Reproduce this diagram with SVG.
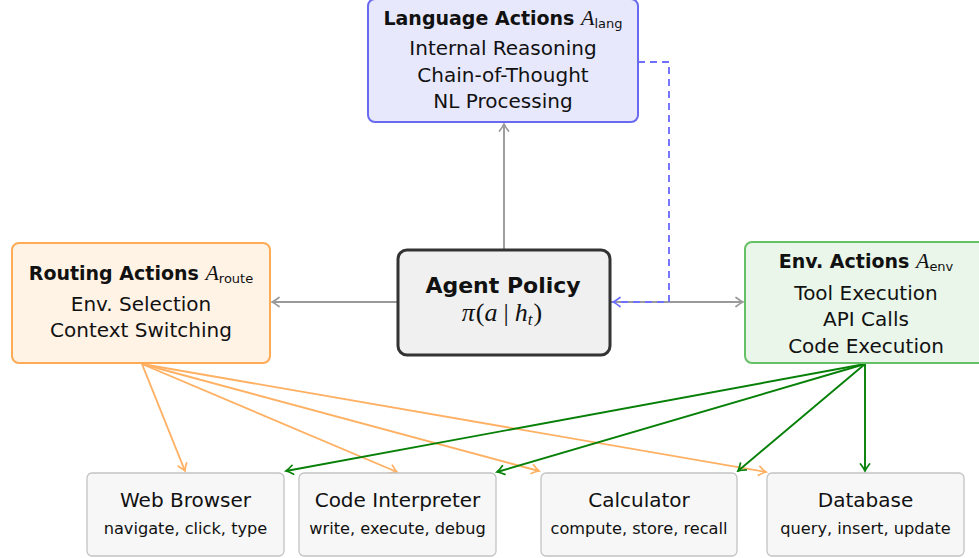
<svg xmlns="http://www.w3.org/2000/svg" width="979" height="558" viewBox="0 0 979 558">
  <defs>
    <style>
      .t { font-family: "DejaVu Sans", "Liberation Sans", sans-serif; fill: #111; text-anchor: middle; }
      .ttl { font-weight: bold; font-size: 19px; }
      .ln { font-size: 20px; }
      .sm { font-size: 16.2px; }
      .cal { font-family: "Liberation Serif", serif; font-style: italic; font-weight: normal; font-size: 22px; }
      .sub { font-weight: normal; font-size: 13px; }
      .math { font-family: "Liberation Serif", serif; font-size: 26px; fill: #111; text-anchor: middle; }
      .tool rect { fill: #f7f7f7; stroke: #c4c4c4; stroke-width: 1.3; }
      .conn path, .conn line { fill: none; stroke-width: 1.9; }
      .gray { stroke: #9a9a9a; }
      .org { stroke: #ffb062; }
      .grn { stroke: #078007; }
      .blu { stroke: #7070ff; stroke-dasharray: 7 5; }
    </style>
    <marker id="ah-gray" markerUnits="userSpaceOnUse" viewBox="-9 -6 11 12" markerWidth="11" markerHeight="12" refX="0" refY="0" orient="auto">
      <path d="M-7,-4.5 Q-2.5,-1 0,0 Q-2.5,1 -7,4.5" fill="none" stroke="#9a9a9a" stroke-width="1.7" stroke-linecap="round"/>
    </marker>
    <marker id="ah-org" markerUnits="userSpaceOnUse" viewBox="-9 -6 11 12" markerWidth="11" markerHeight="12" refX="0" refY="0" orient="auto">
      <path d="M-7,-4.5 Q-2.5,-1 0,0 Q-2.5,1 -7,4.5" fill="none" stroke="#ffb062" stroke-width="1.7" stroke-linecap="round"/>
    </marker>
    <marker id="ah-grn" markerUnits="userSpaceOnUse" viewBox="-9 -6 11 12" markerWidth="11" markerHeight="12" refX="0" refY="0" orient="auto">
      <path d="M-7,-4.5 Q-2.5,-1 0,0 Q-2.5,1 -7,4.5" fill="none" stroke="#078007" stroke-width="1.7" stroke-linecap="round"/>
    </marker>
    <marker id="ah-blu" markerUnits="userSpaceOnUse" viewBox="-9 -6 11 12" markerWidth="11" markerHeight="12" refX="0" refY="0" orient="auto">
      <path d="M-7,-4.5 Q-2.5,-1 0,0 Q-2.5,1 -7,4.5" fill="none" stroke="#7070ff" stroke-width="1.7" stroke-linecap="round"/>
    </marker>
  </defs>

  <rect width="979" height="558" fill="#ffffff"/>

  <!-- connectors -->
  <g id="connectors" class="conn">
    <line class="gray" x1="504" y1="249" x2="504" y2="124" marker-end="url(#ah-gray)"/>
    <line class="gray" x1="397" y1="302" x2="272" y2="302" marker-end="url(#ah-gray)"/>
    <line class="gray" x1="610" y1="302" x2="743" y2="302" marker-end="url(#ah-gray)"/>
    <path class="blu" d="M638,62 H669 V302 H613" marker-end="url(#ah-blu)"/>

    <line class="org" x1="142" y1="364" x2="185" y2="471" marker-end="url(#ah-org)"/>
    <line class="org" x1="142" y1="364" x2="397" y2="472" marker-end="url(#ah-org)"/>
    <line class="org" x1="142" y1="364" x2="539" y2="471" marker-end="url(#ah-org)"/>
    <line class="org" x1="142" y1="364" x2="766" y2="472" marker-end="url(#ah-org)"/>

    <line class="grn" x1="865" y1="364" x2="286" y2="471" marker-end="url(#ah-grn)"/>
    <line class="grn" x1="865" y1="364" x2="497" y2="472" marker-end="url(#ah-grn)"/>
    <line class="grn" x1="865" y1="364" x2="738" y2="471" marker-end="url(#ah-grn)"/>
    <line class="grn" x1="865" y1="364" x2="865" y2="471" marker-end="url(#ah-grn)"/>
  </g>

  <!-- language actions -->
  <g id="lang">
    <rect x="368" y="-1" width="270" height="123" rx="7" fill="#e8e8fc" stroke="#6a6af0" stroke-width="2"/>
    <text class="t ttl" x="503" y="25">Language Actions <tspan class="cal">A</tspan><tspan class="sub" dy="3">lang</tspan></text>
    <text class="t ln" x="503" y="55">Internal Reasoning</text>
    <text class="t ln" x="503" y="82">Chain-of-Thought</text>
    <text class="t ln" x="503" y="108">NL Processing</text>
  </g>

  <!-- routing actions -->
  <g id="route">
    <rect x="12" y="243" width="258" height="120" rx="7" fill="#fff3e6" stroke="#ffaa55" stroke-width="2"/>
    <text class="t ttl" x="141" y="280">Routing Actions <tspan class="cal">A</tspan><tspan class="sub" dy="3">route</tspan></text>
    <text class="t ln" x="141" y="311">Env. Selection</text>
    <text class="t ln" x="141" y="337">Context Switching</text>
  </g>

  <!-- agent policy -->
  <g id="agent">
    <rect x="398" y="250" width="212" height="105" rx="9" fill="#f0f0f0" stroke="#333333" stroke-width="3"/>
    <text class="t" x="503" y="293" font-weight="bold" font-size="22">Agent Policy</text>
    <text class="math" x="502" y="321"><tspan font-style="italic">π</tspan><tspan dx="1">(</tspan><tspan font-style="italic">a</tspan><tspan dx="6">|</tspan><tspan dx="6" font-style="italic">h</tspan><tspan font-style="italic" font-size="17" dy="4">t</tspan><tspan dy="-4" dx="1">)</tspan></text>
  </g>

  <!-- environment actions -->
  <g id="env">
    <rect x="745" y="242" width="245" height="121" rx="7" fill="#e9f6e9" stroke="#66c066" stroke-width="2"/>
    <text class="t ttl" x="866" y="268">Env. Actions <tspan class="cal">A</tspan><tspan class="sub" dy="3">env</tspan></text>
    <text class="t ln" x="866" y="300">Tool Execution</text>
    <text class="t ln" x="866" y="326">API Calls</text>
    <text class="t ln" x="866" y="353">Code Execution</text>
  </g>

  <!-- tools -->
  <g id="web" class="tool">
    <rect x="87" y="473" width="197" height="83" rx="5"/>
    <text class="t ln" x="185.5" y="507">Web Browser</text>
    <text class="t sm" x="185.5" y="534">navigate, click, type</text>
  </g>
  <g id="interp" class="tool">
    <rect x="299" y="473" width="197" height="83" rx="5"/>
    <text class="t ln" x="397.5" y="507">Code Interpreter</text>
    <text class="t sm" x="397.5" y="534">write, execute, debug</text>
  </g>
  <g id="calc" class="tool">
    <rect x="541" y="473" width="196" height="83" rx="5"/>
    <text class="t ln" x="639" y="507">Calculator</text>
    <text class="t sm" x="639" y="534">compute, store, recall</text>
  </g>
  <g id="db" class="tool">
    <rect x="767" y="473" width="197" height="83" rx="5"/>
    <text class="t ln" x="865.5" y="507">Database</text>
    <text class="t sm" x="865.5" y="534">query, insert, update</text>
  </g>
</svg>
